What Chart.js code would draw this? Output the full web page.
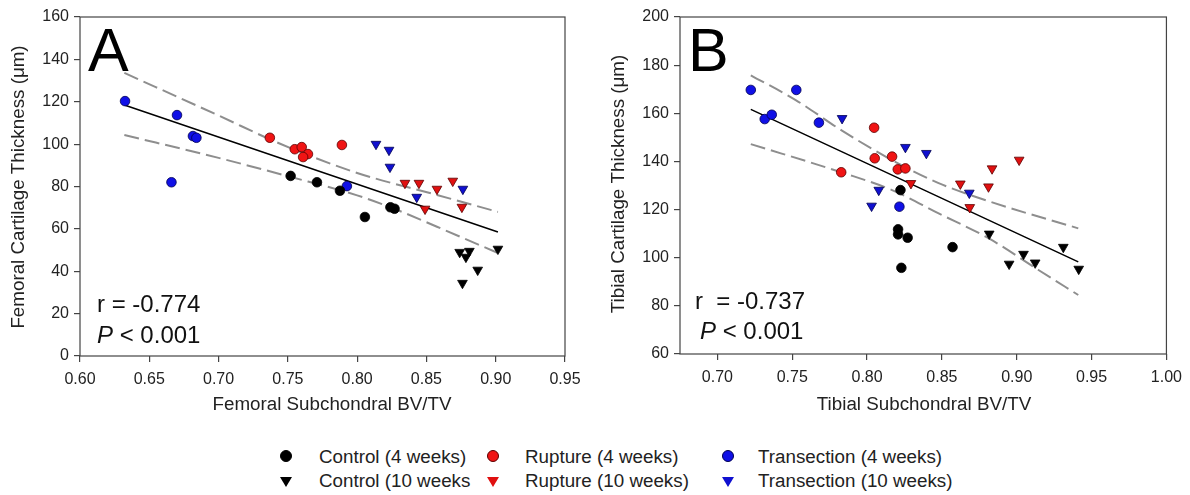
<!DOCTYPE html>
<html>
<head>
<meta charset="utf-8">
<script src="https://cdn.jsdelivr.net/npm/chart.js@4/dist/chart.umd.min.js"></script>
<style>
  body { margin: 0; background: #fff; width: 1190px; height: 495px; position: relative; overflow: hidden;
         font-family: "Liberation Sans", Arial, sans-serif; }
  canvas { position: absolute; top: 0; }
  #chartA { left: 0; }
  #chartB { left: 600px; }
  .key { position: absolute; font-size: 18.8px; color: #222; line-height: 22px; white-space: nowrap; }
  .dot { position: absolute; width: 12px; height: 12px; border-radius: 50%; box-sizing: border-box; }
  .tri { position: absolute; width: 0; height: 0; border-left: 6px solid transparent; border-right: 6px solid transparent; }
</style>
</head>
<body>
<canvas id="chartA" width="595" height="420"></canvas>
<canvas id="chartB" width="590" height="420"></canvas>
<div id="legend"></div>
<script>
const FONT = '"Liberation Sans", Arial, sans-serif';

// groups shared by both panels
const groupNames = ['Control (4 weeks)', 'Control (10 weeks', 'Rupture (4 weeks)', 'Rupture (10 weeks)', 'Transection (4 weeks)', 'Transection (10 weeks)'];
const groupFill = ['#000000', '#000000', '#f01414', '#e01010', '#1010e6', '#1010d0'];
const groupEdge = ['#000000', '#000000', '#5a0000', '#5a0000', '#000050', '#000050'];
const groupTri = [false, true, false, true, false, true];

// panel A: femoral
const femXTicks = [0.60, 0.65, 0.70, 0.75, 0.80, 0.85, 0.90, 0.95];
const femYTicks = [0, 20, 40, 60, 80, 100, 120, 140, 160];
const femCtrl4 = [[0.752, 85], [0.771, 82], [0.7876, 78], [0.8056, 65.6], [0.824, 70.2], [0.827, 69.5]];
const femCtrl10 = [[0.874, 49], [0.881, 49.5], [0.8785, 46.7], [0.887, 40.6], [0.876, 34.4], [0.9016, 50.5]];
const femRup4 = [[0.737, 103], [0.755, 97.6], [0.760, 98.6], [0.7645, 95.3], [0.761, 93.9], [0.789, 99.6]];
const femRup10 = [[0.8345, 81.6], [0.8446, 81.6], [0.8576, 78.8], [0.869, 82.6], [0.849, 69.4], [0.8756, 70.3]];
const femTrans4 = [[0.6325, 120.3], [0.670, 113.7], [0.6815, 103.8], [0.684, 103], [0.666, 82], [0.7926, 80.2]];
const femTrans10 = [[0.8136, 100], [0.823, 97.2], [0.8237, 89.2], [0.8763, 78.8], [0.843, 75]];
const femFit = [[0.632, 118.5], [0.9016, 58.5]];
const femUpper = [[0.632, 133.6], [0.70, 113.5], [0.744, 100.3], [0.80, 86.4], [0.8576, 76], [0.9016, 68]];
const femLower = [[0.632, 104.3], [0.70, 93.5], [0.7515, 84.6], [0.80, 75.8], [0.826, 69.7], [0.8576, 61], [0.9016, 48.6]];

// panel B: tibial
const tibXTicks = [0.70, 0.75, 0.80, 0.85, 0.90, 0.95, 1.00];
const tibYTicks = [60, 80, 100, 120, 140, 160, 180, 200];
const tibCtrl4 = [[0.8223, 128.1], [0.8207, 111.8], [0.8207, 109.7], [0.8271, 108.3], [0.8571, 104.4], [0.8229, 95.8]];
const tibCtrl10 = [[0.8816, 109.9], [0.8949, 97.4], [0.9045, 101.5], [0.9123, 97.9], [0.9311, 104.4], [0.9414, 95.3]];
const tibRup4 = [[0.8047, 154], [0.8051, 141.3], [0.7827, 135.5], [0.8167, 142], [0.8205, 136.7], [0.8256, 137.1]];
const tibRup10 = [[0.8293, 130.9], [0.8623, 130.7], [0.8835, 137], [0.9016, 140.6], [0.8811, 129.5], [0.8686, 120.9]];
const tibTrans4 = [[0.7223, 169.7], [0.7316, 157.6], [0.7363, 159.4], [0.7527, 169.7], [0.7678, 156.1], [0.8216, 121.2]];
const tibTrans10 = [[0.7833, 157.9], [0.8078, 128.1], [0.803, 121.5], [0.8256, 145.9], [0.8396, 143.4], [0.8683, 126.9]];
const tibFit = [[0.7223, 161.6], [0.9411, 98.3]];
const tibUpper = [[0.7223, 175.8], [0.7523, 165.5], [0.7827, 153], [0.8167, 140.5], [0.8478, 131], [0.8811, 123.5], [0.9411, 112.2]];
const tibLower = [[0.7223, 147.2], [0.7827, 135.5], [0.8167, 128.1], [0.8478, 118.4], [0.8811, 108.1], [0.9145, 94.9], [0.9411, 84.5]];

const pts = arr => arr.map(([x, y]) => ({ x, y }));

function markerSet(data, i) {
  return {
    label: groupNames[i],
    data: pts(data),
    showLine: false,
    pointStyle: groupTri[i] ? 'triangle' : 'circle',
    pointRotation: groupTri[i] ? 180 : 0,
    pointRadius: groupTri[i] ? 5.6 : 4.8,
    pointBackgroundColor: groupFill[i],
    pointBorderColor: groupEdge[i],
    pointBorderWidth: 0.8
  };
}

function lineSet(data, dashed) {
  return {
    data: pts(data),
    showLine: true,
    pointRadius: 0,
    borderColor: dashed ? '#8e8e8e' : '#000',
    borderWidth: dashed ? 2 : 1.5,
    borderDash: dashed ? [15, 6] : [],
    cubicInterpolationMode: 'monotone',
    fill: false
  };
}

// outer frame around the plot area
const frame = {
  id: 'frame',
  afterDraw(chart) {
    const { ctx, chartArea: a } = chart;
    ctx.save();
    ctx.strokeStyle = '#444';
    ctx.lineWidth = 1.2;
    ctx.strokeRect(a.left, a.top, a.right - a.left, a.bottom - a.top);
    ctx.restore();
  }
};

// panel letter, correlation text and axis titles
const panelText = {
  id: 'panelText',
  afterDraw(chart, args, o) {
    const ctx = chart.ctx;
    ctx.save();
    ctx.fillStyle = '#000';
    ctx.textBaseline = 'alphabetic';
    ctx.textAlign = 'left';
    ctx.font = '61px ' + FONT;
    ctx.fillText(o.letter, o.letterX, 71);

    ctx.fillStyle = '#111';
    ctx.font = '24px ' + FONT;
    ctx.fillText(o.rText, o.statX, o.rY);
    ctx.font = 'italic 24px ' + FONT;
    ctx.fillText('P', o.statX + o.pShift, o.pY);
    const pw = ctx.measureText('P').width;
    ctx.font = '24px ' + FONT;
    ctx.fillText(' < 0.001', o.statX + o.pShift + pw, o.pY);

    ctx.fillStyle = '#222';
    ctx.font = '18.8px ' + FONT;
    ctx.textAlign = 'center';
    ctx.textBaseline = 'middle';
    ctx.fillText(o.xTitle, o.xTitleX, o.xTitleY);
    ctx.translate(o.yTitleX, o.yTitleY);
    ctx.rotate(-Math.PI / 2);
    ctx.fillText(o.yTitle, 0, 0);
    ctx.restore();
  }
};

function axis(min, max, ticks, fit, isX) {
  return {
    type: 'linear',
    min: min,
    max: max,
    afterBuildTicks: s => { s.ticks = ticks.map(v => ({ value: v })); },
    afterFit: s => { if (isX) s.height = fit; else s.width = fit; },
    border: { display: false },
    grid: { drawOnChartArea: false, drawTicks: true, tickLength: 6, color: '#444', lineWidth: 1.2 },
    ticks: {
      autoSkip: false,
      maxRotation: 0,
      padding: isX ? 8 : 5,
      color: '#222',
      font: { family: FONT, size: 16 },
      callback: v => isX ? v.toFixed(2) : String(v)
    }
  };
}

function makeChart(id, sets, xr, yr, xTicks, yTicks, xFit, padRight, text) {
  return new Chart(document.getElementById(id), {
    type: 'scatter',
    data: { datasets: sets },
    options: {
      responsive: false,
      animation: false,
      events: [],
      layout: { padding: { top: 17, right: padRight, left: 0, bottom: 0 } },
      scales: {
        x: axis(xr[0], xr[1], xTicks, xFit, true),
        y: axis(yr[0], yr[1], yTicks, 80, false)
      },
      plugins: { legend: { display: false }, tooltip: { enabled: false }, panelText: text }
    },
    plugins: [frame, panelText]
  });
}

makeChart('chartA', [
  markerSet(femCtrl4, 0), markerSet(femCtrl10, 1), markerSet(femRup4, 2),
  markerSet(femRup10, 3), markerSet(femTrans4, 4), markerSet(femTrans10, 5),
  lineSet(femFit, false), lineSet(femUpper, true), lineSet(femLower, true)
], [0.60, 0.95], [0, 160], femXTicks, femYTicks, 64, 30, {
  letter: 'A', letterX: 88,
  rText: 'r = -0.774', statX: 97, rY: 312, pY: 343, pShift: 0,
  xTitle: 'Femoral Subchondral BV/TV', xTitleX: 332, xTitleY: 405,
  yTitle: 'Femoral Cartilage Thickness (\u03bcm)', yTitleX: 19, yTitleY: 187
});

makeChart('chartB', [
  markerSet(tibCtrl4, 0), markerSet(tibCtrl10, 1), markerSet(tibRup4, 2),
  markerSet(tibRup10, 3), markerSet(tibTrans4, 4), markerSet(tibTrans10, 5),
  lineSet(tibFit, false), lineSet(tibUpper, true), lineSet(tibLower, true)
], [0.675, 1.00], [60, 200], tibXTicks, tibYTicks, 66, 23, {
  letter: 'B', letterX: 88,
  rText: 'r  = -0.737', statX: 95, rY: 309, pY: 339, pShift: 5,
  xTitle: 'Tibial Subchondral BV/TV', xTitleX: 324, xTitleY: 405,
  yTitle: 'Tibial Cartilage Thickness (\u03bcm)', yTitleX: 19, yTitleY: 184
});

// shared legend below both panels
const legend = document.getElementById('legend');
const keyMarkX = [286, 493, 728];
const keyTextX = [319, 525, 758];
const keyRowY = [457, 481];
groupNames.forEach((name, i) => {
  const col = Math.floor(i / 2), row = i % 2;
  const mark = document.createElement('div');
  if (groupTri[i]) {
    mark.className = 'tri';
    mark.style.borderTop = '10px solid ' + groupFill[i];
    mark.style.left = (keyMarkX[col] - 6) + 'px';
    mark.style.top = (keyRowY[row] - 4) + 'px';
  } else {
    mark.className = 'dot';
    mark.style.background = groupFill[i];
    mark.style.border = '1px solid ' + groupEdge[i];
    mark.style.left = (keyMarkX[col] - 6) + 'px';
    mark.style.top = (keyRowY[row] - 7) + 'px';
  }
  legend.appendChild(mark);
  const txt = document.createElement('div');
  txt.className = 'key';
  txt.textContent = name;
  txt.style.left = keyTextX[col] + 'px';
  txt.style.top = (keyRowY[row] - 11) + 'px';
  legend.appendChild(txt);
});
</script>
</body>
</html>
